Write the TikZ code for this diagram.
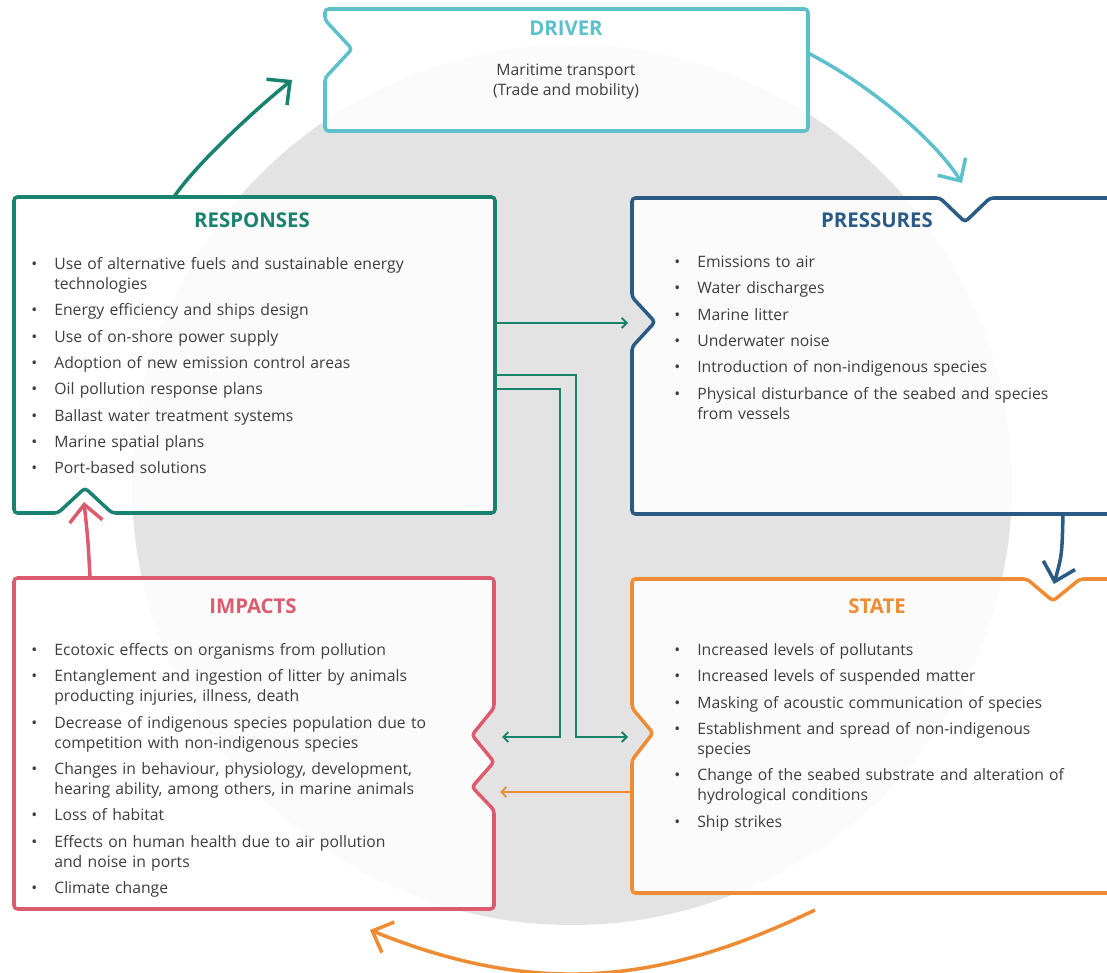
\documentclass[tikz,border=0pt]{standalone}
\usepackage{fontspec}
\setmainfont{Open Sans}
\usetikzlibrary{calc,positioning,arrows.meta}

\definecolor{driver}{HTML}{5EC0CA}
\definecolor{pressure}{HTML}{2A5B84}
\definecolor{state}{HTML}{EE8C34}
\definecolor{impact}{HTML}{DC5C6F}
\definecolor{response}{HTML}{18826F}
\definecolor{disc}{HTML}{E3E3E3}
\definecolor{txt}{HTML}{3D3D3D}

\newcommand\bul[1]{\par\noindent\hangindent=0.46cm\hangafter=1\strut\hbox to 0.46cm{\textbullet\hfil}#1\par}

\tikzset{
  box/.style={line width=2pt, fill=white, fill opacity=0.88, rounded corners=2pt},
  title/.style={font=\fontsize{11.6}{14}\selectfont\bfseries},
  itemlist/.style={anchor=north west, inner sep=0pt, text width=9.4cm, align=left, text=txt,
    font=\fontsize{8.95}{11.38}\selectfont},
  cyclearrow/.style={line width=2pt, -{Straight Barb[length=0.34cm,width=0.66cm]}},
  linkarrow/.style={line width=1.1pt, -{Straight Barb[length=0.1cm,width=0.2cm]}},
}

\begin{document}
\begin{tikzpicture}[x=0.02cm,y=-0.02cm]
\clip (0,0) rectangle (1107,973);
\fill[disc] (572,485) circle (440);

% boxes
\draw[box,draw=driver] (325,131) -- (325,78) -- (352,49) -- (325,20) -- (325,9) -- (808,9) -- (808,131) -- cycle;
\draw[box,draw=pressure] (632,514) -- (632,347) -- (655,322) -- (632,297) -- (632,198) -- (940,198) -- (965,222)
      -- (990,198) -- (1125,198) -- (1125,514) -- cycle;
\draw[box,draw=state] (632,893) -- (632,760) -- (653,733) -- (632,708) -- (632,579) -- (1027,579) -- (1053,601)
      -- (1080,579) -- (1125,579) -- (1125,893) -- cycle;
\draw[box,draw=impact] (14,578) -- (494,578) -- (494,708) -- (472,735) -- (494,762) -- (472,787) -- (494,810)
      -- (494,909) -- (14,909) -- cycle;
\draw[box,draw=response] (14,197) -- (495,197) -- (495,513) -- (112,513) -- (85,488) -- (58,513) -- (14,513) -- cycle;

% ports
\coordinate (resp-n) at (174,197);
\coordinate (drv-w) at (292,80);
\coordinate (drv-e) at (808,53);
\coordinate (pres-n) at (962,183);
\coordinate (pres-s) at (1063,514);
\coordinate (state-n) at (1054,584);
\coordinate (state-s) at (815,910);
\coordinate (imp-s) at (370,930);
\coordinate (imp-n) at (90,577);
\coordinate (resp-s) at (84,502);
\coordinate (resp-e1) at (495,323);
\coordinate (pres-w) at (628,323);
\coordinate (resp-e2) at (495,375);
\coordinate (resp-e3) at (495,389);
\coordinate (bend-a) at (576,737);
\coordinate (bend-b) at (560,737);
\coordinate (state-w) at (628,737);
\coordinate (imp-e1) at (502,737);
\coordinate (state-w2) at (632,792);
\coordinate (imp-e2) at (500,792);

% cycle
\draw[cyclearrow,response] (resp-n) .. controls (195,165) and (258,107) .. (drv-w);
\draw[cyclearrow,driver] (drv-e) .. controls (870,85) and (935,140) .. (pres-n);
\draw[cyclearrow,pressure] (pres-s) .. controls (1062,555) .. (state-n);
\draw[cyclearrow,state] (state-s) .. controls (665,982) and (540,999) .. (imp-s);
\draw[cyclearrow,impact] (imp-n) .. controls (88,540) .. (resp-s);

% links
\draw[linkarrow,response] (resp-e1) -- (pres-w);
\draw[linkarrow,response] (resp-e2) -| (bend-a) -- (state-w);
\draw[linkarrow,response] (resp-e3) -| (bend-b) -- (imp-e1);
\draw[linkarrow,state] (state-w2) -- (imp-e2);

% titles
\node[title,text=driver] (drv-title) at (566,28) {DRIVER};
\node[title,text=response] (resp-title) at (252,220) {RESPONSES};
\node[title,text=pressure] (pres-title) at (877,220) {PRESSURES};
\node[title,text=impact] (imp-title) at (253,606) {IMPACTS};
\node[title,text=state] (state-title) at (877,606) {STATE};

\node[align=center, text=txt, font=\fontsize{8.95}{11.38}\selectfont] (drv-text) at (566,82)
  {Maritime transport\\(Trade and mobility)};

\node[itemlist] (resp-list) at (31,243) {\setlength\parskip{3.6pt}%
  \bul{Use of alternative fuels and sustainable energy\newline technologies}
  \bul{Energy efficiency and ships design}
  \bul{Use of on-shore power supply}
  \bul{Adoption of new emission control areas}
  \bul{Oil pollution response plans}
  \bul{Ballast water treatment systems}
  \bul{Marine spatial plans}
  \bul{Port-based solutions}};

\node[itemlist] (pres-list) at (674,241) {\setlength\parskip{3.6pt}%
  \bul{Emissions to air}
  \bul{Water discharges}
  \bul{Marine litter}
  \bul{Underwater noise}
  \bul{Introduction of non-indigenous species}
  \bul{Physical disturbance of the seabed and species\newline from vessels}};

\node[itemlist] (state-list) at (674,629) {\setlength\parskip{3.6pt}%
  \bul{Increased levels of pollutants}
  \bul{Increased levels of suspended matter}
  \bul{Masking of acoustic communication of species}
  \bul{Establishment and spread of non-indigenous\newline species}
  \bul{Change of the seabed substrate and alteration of\newline hydrological conditions}
  \bul{Ship strikes}};

\node[itemlist] (imp-list) at (31,629) {\setlength\parskip{3.6pt}%
  \bul{Ecotoxic effects on organisms from pollution}
  \bul{Entanglement and ingestion of litter by animals\newline producting injuries, illness, death}
  \bul{Decrease of indigenous species population due to\newline competition with non-indigenous species}
  \bul{Changes in behaviour, physiology, development,\newline hearing ability, among others, in marine animals}
  \bul{Loss of habitat}
  \bul{Effects on human health due to air pollution\newline and noise in ports}
  \bul{Climate change}};
\end{tikzpicture}
\end{document}
